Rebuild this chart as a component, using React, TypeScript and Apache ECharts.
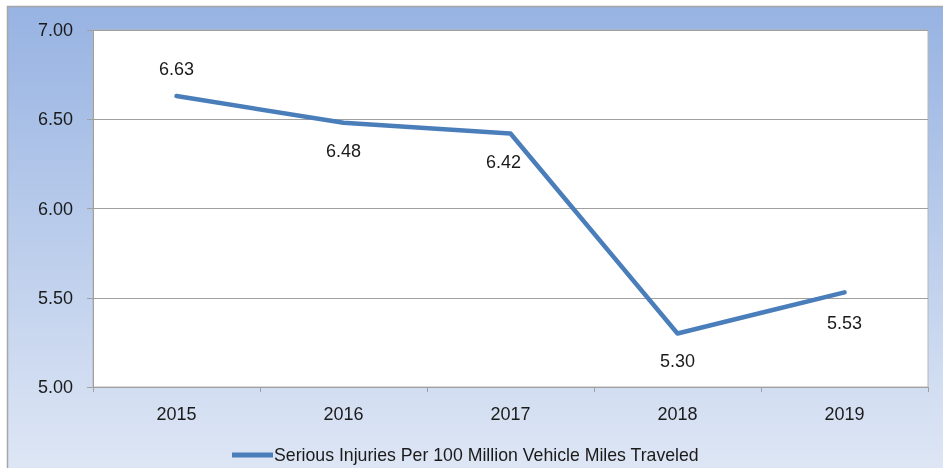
import React, { useEffect, useRef } from "react";
import * as echarts from "echarts";

const categories = ["2015", "2016", "2017", "2018", "2019"];
const seriesName = "Serious Injuries Per 100 Million Vehicle Miles Traveled";
const values = [6.63, 6.48, 6.42, 5.3, 5.53];
const labelPlacement = ["top", "bottom", "bottom", "bottom", "bottom"];
const labelDistances = [17, 18, 18, 18, 21];
const labelPaddings = [[0, 0, 0, 0], [0, 0, 0, 0], [0, 14, 0, 0], [0, 0, 0, 0], [0, 0, 0, 0]];

const FONT = "'Liberation Sans', Arial, sans-serif";

export default function App() {
  const ref = useRef<HTMLDivElement>(null);
  useEffect(() => {
    if (!ref.current) return;
    const chart = echarts.init(ref.current, null, { renderer: "svg" });
    chart.setOption({
      animation: false,
      graphic: [
        {
          type: "rect",
          z: -10,
          silent: true,
          shape: { x: 7.5, y: 6.5, width: 950, height: 470 },
          style: {
            fill: new echarts.graphic.LinearGradient(0, 0, 0, 1, [
              { offset: 0, color: "#97b3e2" },
              { offset: 1, color: "#dfe7f5" },
            ]),
            stroke: "#a6a6a6",
            lineWidth: 1.5,
          },
        },
      ],
      grid: {
        left: 93,
        right: 15,
        top: 30,
        bottom: 81,
        show: true,
        backgroundColor: "#ffffff",
        borderColor: "#b5b5b5",
        borderWidth: 1,
        containLabel: false,
      },
      legend: {
        show: true,
        left: 227,
        top: 441,
        itemWidth: 41,
        itemHeight: 5,
        itemGap: 2,
        icon: "rect",
        textStyle: { fontFamily: FONT, fontSize: 17.7, color: "#1a1a1a", padding: [0, 0, 0, -4] },
        data: [{ name: seriesName, itemStyle: { color: "#4a7ebb", opacity: 1 } }],
      },
      xAxis: {
        type: "category",
        data: categories,
        boundaryGap: true,
        axisLine: { show: true, lineStyle: { color: "#a0a0a0", width: 1 } },
        axisTick: { show: true, length: 5, alignWithLabel: false, lineStyle: { color: "#a0a0a0" } },
        axisLabel: { margin: 18, fontFamily: FONT, fontSize: 18, color: "#1a1a1a" },
        splitLine: { show: false },
      },
      yAxis: {
        type: "value",
        min: 5,
        max: 7,
        interval: 0.5,
        axisLine: { show: true, lineStyle: { color: "#a0a0a0", width: 1 } },
        axisTick: { show: true, length: 6, lineStyle: { color: "#a0a0a0" } },
        axisLabel: {
          margin: 20,
          fontFamily: FONT,
          fontSize: 18,
          color: "#1a1a1a",
          formatter: (v: number) => v.toFixed(2),
        },
        splitLine: { show: true, lineStyle: { color: "#a0a0a0", width: 1 } },
      },
      series: [
        {
          name: seriesName,
          type: "line",
          data: values.map((v, i) => ({
            value: v,
            label: {
              show: true,
              position: labelPlacement[i],
              distance: labelDistances[i],
              padding: labelPaddings[i],
              fontFamily: FONT,
              fontSize: 18,
              color: "#1a1a1a",
            },
          })),
          showSymbol: true,
          symbol: "circle",
          symbolSize: 2,
          lineStyle: { color: "#4a7ebb", width: 4.5, cap: "round", join: "round" },
          itemStyle: { color: "#4a7ebb" },
          label: {
            show: true,
            fontFamily: FONT,
            fontSize: 18,
            color: "#1a1a1a",
            formatter: (p: any) => Number(p.value).toFixed(2),
          },
          labelLayout: { hideOverlap: false },
        },
      ],
    });
    return () => chart.dispose();
  }, []);
  return (
    <div
      ref={ref}
      style={{ position: "fixed", left: 0, top: 0, width: 943, height: 468 }}
    />
  );
}
